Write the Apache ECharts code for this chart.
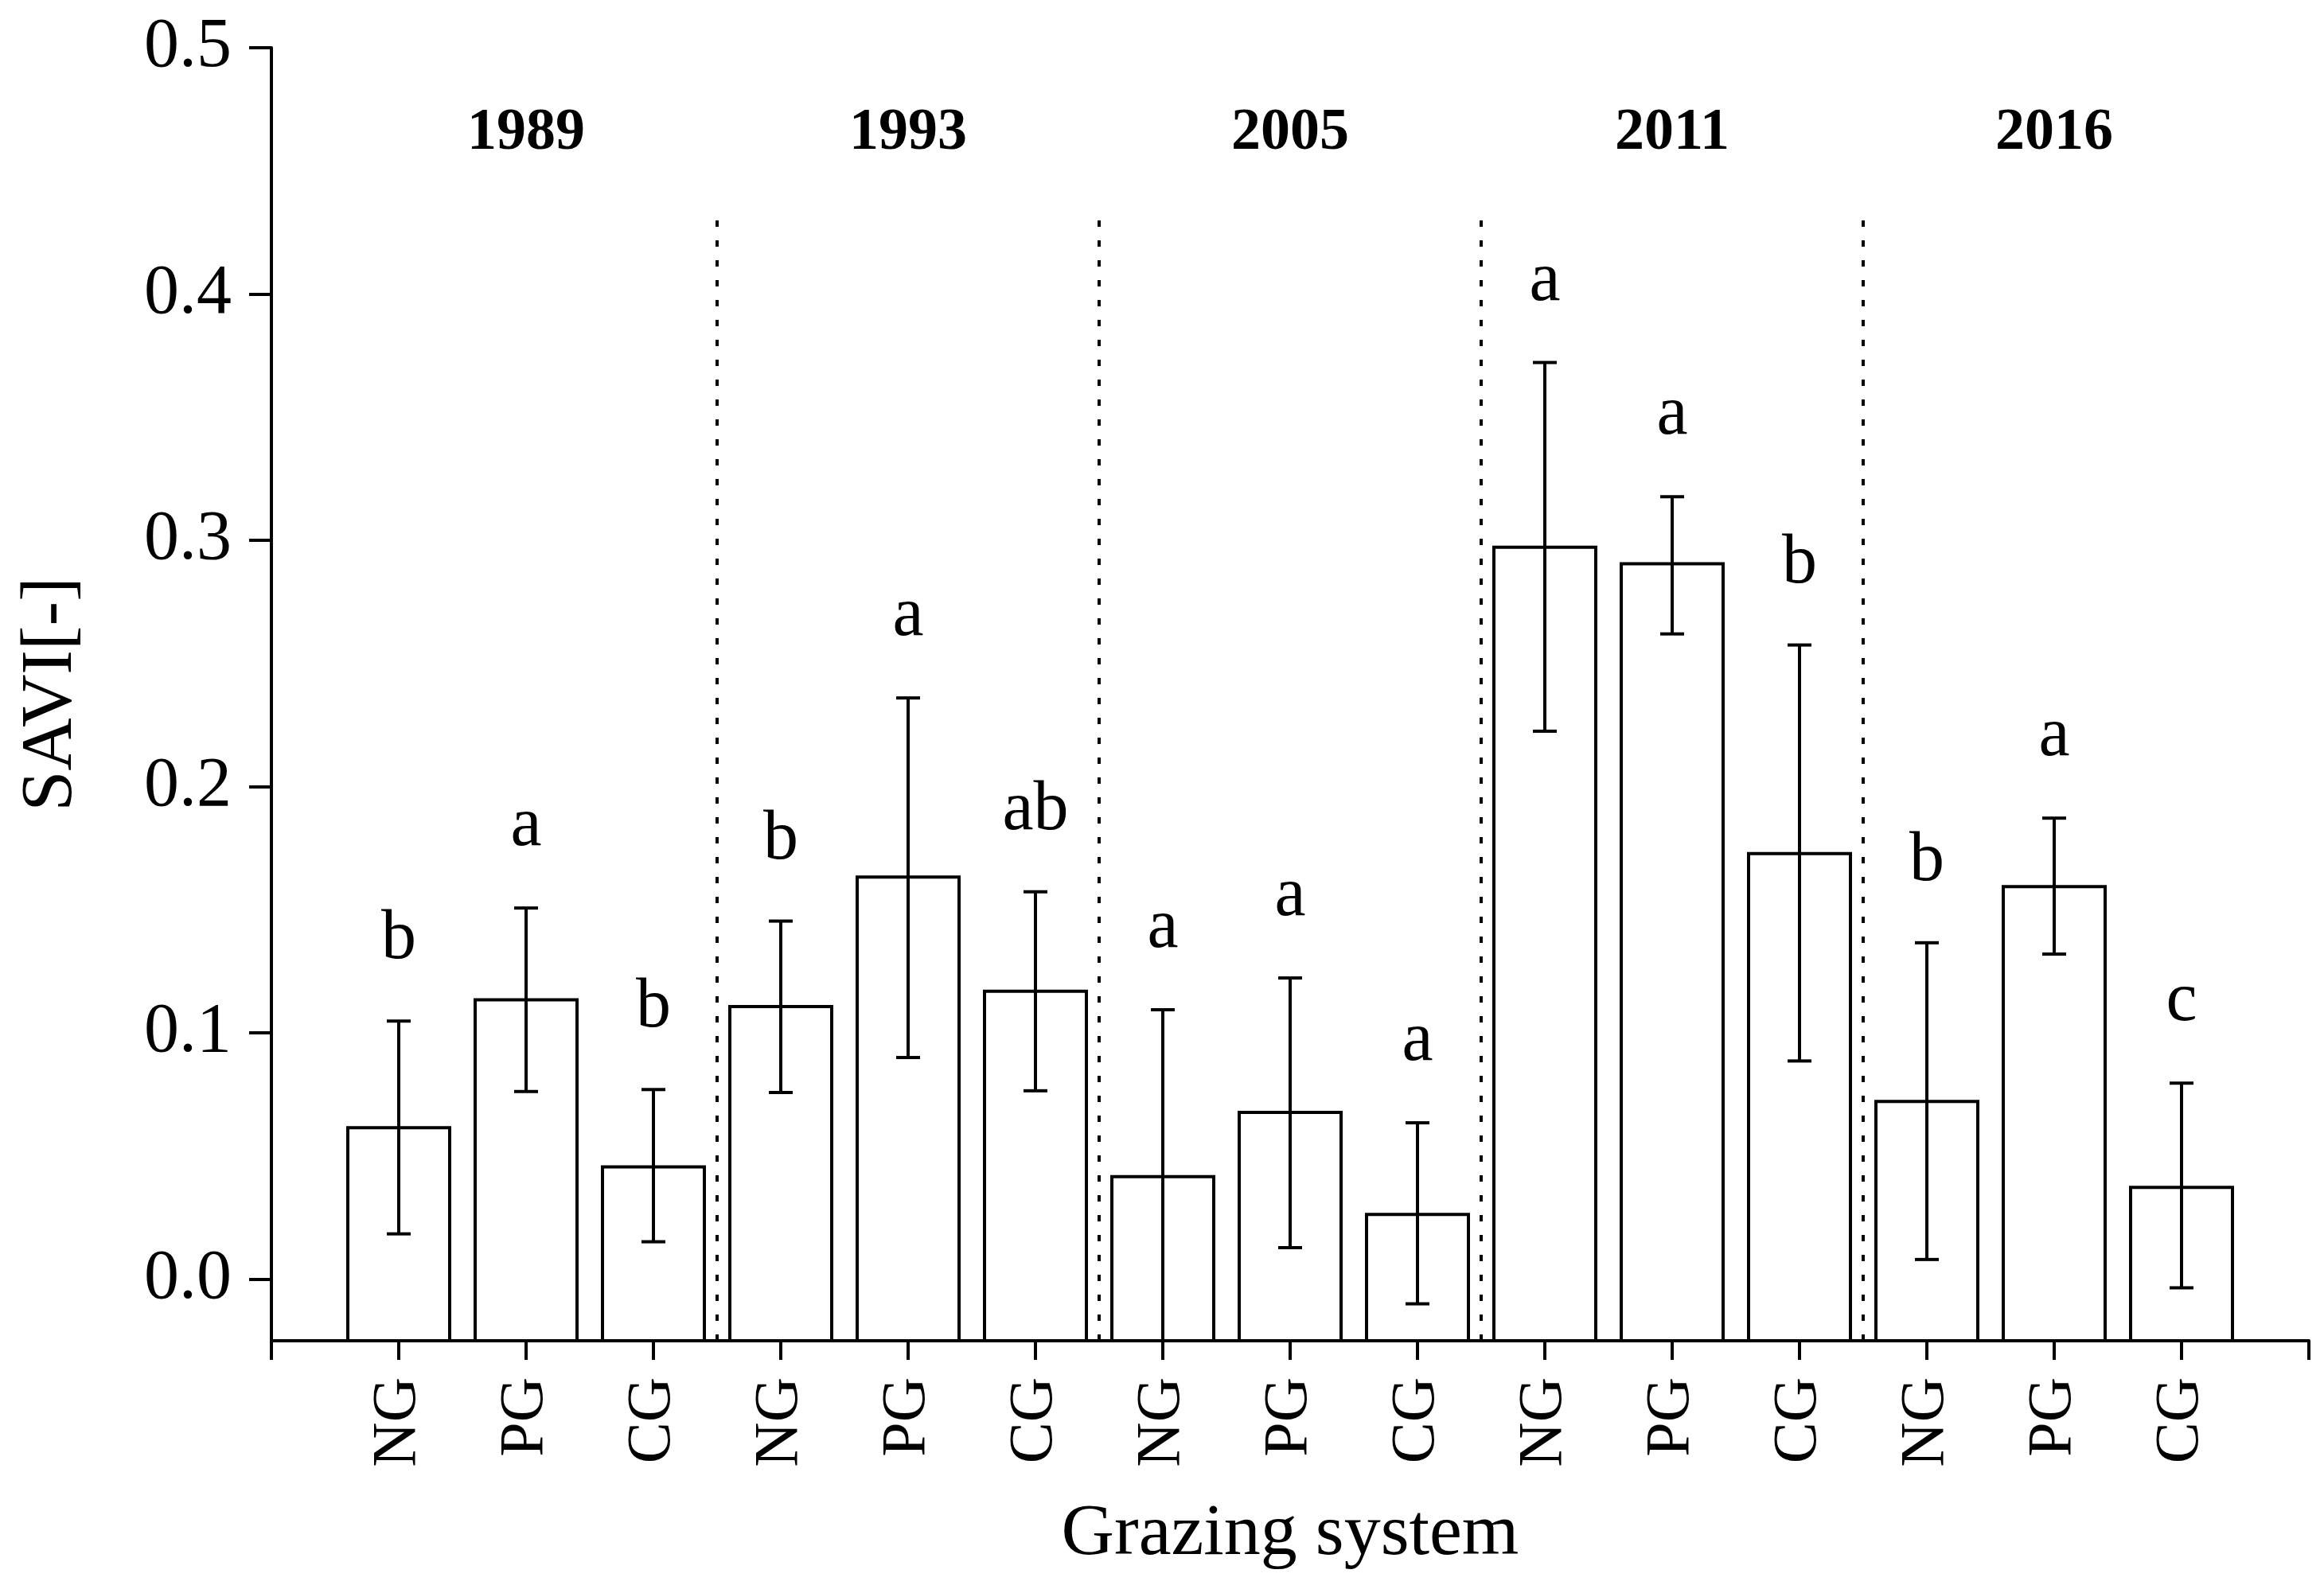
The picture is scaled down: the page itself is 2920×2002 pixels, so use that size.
<!DOCTYPE html>
<html>
<head>
<meta charset="utf-8">
<title>SAVI by grazing system</title>
<script src="https://cdn.jsdelivr.net/npm/echarts@6/dist/echarts.min.js"></script>
<style>
  html, body { margin: 0; padding: 0; background: #fff; }
  #main { width: 2920px; height: 2002px; }
</style>
</head>
<body>
<div id="main"></div>
<script>
const years = ['1989', '1993', '2005', '2011', '2016'];
const systems = ['NG', 'PG', 'CG'];
// mean SAVI, one value per year x system (NG, PG, CG)
const savi = [0.0615, 0.1134, 0.0456, 0.1107, 0.1633, 0.1169, 0.0416, 0.0677, 0.0263, 0.2972, 0.2905, 0.1728, 0.0722, 0.1594, 0.0373];
const errUpper = [0.1048, 0.1507, 0.0770, 0.1454, 0.2360, 0.1573, 0.1094, 0.1223, 0.0635, 0.3722, 0.3177, 0.2575, 0.1366, 0.1872, 0.0796];
const errLower = [0.0184, 0.0762, 0.0152, 0.0758, 0.0900, 0.0765, -0.0250, 0.0128, -0.0100, 0.2225, 0.2620, 0.0886, 0.0080, 0.1320, -0.0035];
const letters = ['b', 'a', 'b', 'b', 'a', 'ab', 'a', 'a', 'a', 'a', 'a', 'b', 'b', 'a', 'c'];
const yTicks = [0, 0.1, 0.2, 0.3, 0.4, 0.5];

const yMin = -0.025;
const yMax = 0.5;
const sepTop = 0.43;
const yearLabelY = 0.465;
const font = '"Liberation Serif", "Times New Roman", serif';

const categories = [];
years.forEach(() => systems.forEach(s => categories.push(s)));

const barData = savi.map((v, i) => [i + 1, v, errLower[i], errUpper[i], i]);
const sepData = years.slice(1).map((y, i) => [(i + 1) * systems.length + 0.5]);
const yearData = years.map((y, i) => [i * systems.length + 2, i]);

const renderBar = (params, api) => {
  const x = api.value(0);
  const base = api.coord([x, yMin]);
  const top = api.coord([x, api.value(1)]);
  const lo = api.coord([x, api.value(2)]);
  const hi = api.coord([x, api.value(3)]);
  const w = api.size([0.8, 0])[0];
  const cap = 15;
  const line = { stroke: '#000', lineWidth: 4 };
  return {
    type: 'group',
    children: [
      {
        type: 'rect',
        shape: { x: top[0] - w / 2, y: top[1], width: w, height: base[1] - top[1] },
        style: { fill: '#fff', stroke: '#000', lineWidth: 4 }
      },
      { type: 'line', shape: { x1: hi[0], y1: hi[1], x2: lo[0], y2: lo[1] }, style: line },
      { type: 'line', shape: { x1: hi[0] - cap, y1: hi[1], x2: hi[0] + cap, y2: hi[1] }, style: line },
      { type: 'line', shape: { x1: lo[0] - cap, y1: lo[1], x2: lo[0] + cap, y2: lo[1] }, style: line },
      {
        type: 'text',
        style: {
          text: letters[api.value(4)],
          x: hi[0],
          y: hi[1] - 58,
          align: 'center',
          verticalAlign: 'bottom',
          fontSize: 88,
          fontFamily: font,
          fill: '#000'
        }
      }
    ]
  };
};

const renderSeparator = (params, api) => {
  const x = api.value(0);
  const p0 = api.coord([x, yMin]);
  const p1 = api.coord([x, sepTop]);
  return {
    type: 'line',
    shape: { x1: p0[0], y1: p0[1], x2: p1[0], y2: p1[1] },
    style: { stroke: '#000', lineWidth: 4, lineDash: [8, 17] }
  };
};

const renderYear = (params, api) => {
  const p = api.coord([api.value(0), yearLabelY]);
  return {
    type: 'text',
    style: {
      text: years[api.value(1)],
      x: p[0],
      y: p[1],
      align: 'center',
      verticalAlign: 'middle',
      fontSize: 74,
      fontWeight: 'bold',
      fontFamily: font,
      fill: '#000'
    }
  };
};

const chart = echarts.init(document.getElementById('main'));
const option = {
  backgroundColor: '#fff',
  animation: false,
  textStyle: { fontFamily: font, color: '#000' },
  grid: { left: 341, right: 19, top: 60, bottom: 317, containLabel: false, outerBoundsMode: 'none' },
  xAxis: {
    type: 'value',
    min: 0,
    max: categories.length + 1,
    interval: 1,
    name: 'Grazing system',
    nameLocation: 'middle',
    nameGap: 198,
    nameTextStyle: { fontSize: 92, color: '#000', fontFamily: font },
    axisLine: { onZero: false, lineStyle: { color: '#000', width: 4 } },
    axisTick: { length: 24, lineStyle: { color: '#000', width: 4 } },
    axisLabel: {
      rotate: 90,
      margin: 46,
      fontSize: 78,
      color: '#000',
      fontFamily: font,
      formatter: v => categories[Math.round(v) - 1] || ''
    },
    splitLine: { show: false }
  },
  yAxis: {
    type: 'value',
    min: yMin,
    max: yMax,
    name: 'SAVI[-]',
    nameLocation: 'middle',
    nameGap: 230,
    nameTextStyle: { fontSize: 92, color: '#000', fontFamily: font },
    axisLine: { show: true, onZero: false, lineStyle: { color: '#000', width: 4 } },
    axisTick: { show: true, length: 28, customValues: yTicks, lineStyle: { color: '#000', width: 4 } },
    axisLabel: {
      customValues: yTicks,
      margin: 50,
      fontSize: 88,
      color: '#000',
      fontFamily: font,
      formatter: v => v.toFixed(1)
    },
    splitLine: { show: false }
  },
  series: [
    {
      type: 'custom',
      name: 'separators',
      renderItem: renderSeparator,
      data: sepData,
      z: 1
    },
    {
      type: 'custom',
      name: 'SAVI',
      renderItem: renderBar,
      data: barData,
      clip: false,
      z: 2
    },
    {
      type: 'custom',
      name: 'years',
      renderItem: renderYear,
      data: yearData,
      z: 3
    }
  ]
};
chart.setOption(option);
</script>
</body>
</html>
